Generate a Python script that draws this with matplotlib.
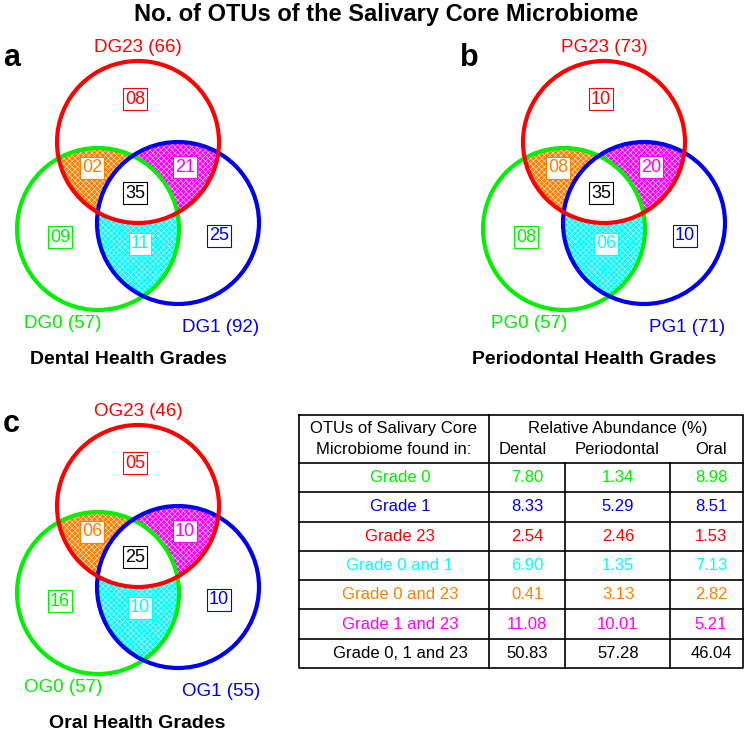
import numpy as np
import matplotlib
matplotlib.use("Agg")
import matplotlib.pyplot as plt
from matplotlib.patches import Circle, Polygon

plt.rcParams['font.family'] = ['Liberation Sans', 'DejaVu Sans']
plt.rcParams['hatch.linewidth'] = 0.35

# venn data: sets are grade 23 (top), grade 0 (left), grade 1 (right)
panel_letters = ['a', 'b', 'c']
set_prefix = ['DG', 'PG', 'OG']
panel_titles = ['Dental Health Grades', 'Periodontal Health Grades', 'Oral Health Grades']
totals_23 = [66, 73, 46]
totals_0 = [57, 57, 57]
totals_1 = [92, 71, 55]
# region counts: only 23, 0&23, 1&23, all three, only 0, 0&1, only 1
counts_a = [8, 2, 21, 35, 9, 11, 25]
counts_b = [10, 8, 20, 35, 8, 6, 10]
counts_c = [5, 6, 10, 25, 16, 10, 10]

# table data
row_labels = ['Grade 0', 'Grade 1', 'Grade 23', 'Grade 0 and 1',
              'Grade 0 and 23', 'Grade 1 and 23', 'Grade 0, 1 and 23']
dental = [7.80, 8.33, 2.54, 6.90, 0.41, 11.08, 50.83]
periodontal = [1.34, 5.29, 2.46, 1.35, 3.13, 10.01, 57.28]
oral = [8.98, 8.51, 1.53, 7.13, 2.82, 5.21, 46.04]

RED = '#ff0000'
GREEN = '#00f000'
BLUE = '#0000f0'
CYAN = '#00ffff'
ORANGE = '#ff7f00'
MAGENTA = '#ff00ff'
row_colors = [GREEN, BLUE, RED, CYAN, ORANGE, MAGENTA, 'black']
region_colors = [RED, ORANGE, MAGENTA, 'black', GREEN, CYAN, BLUE]

R = 81
C_RED = (138, 142)
C_GREEN = (98, 229)
C_BLUE = (178, 223)
region_pos = [(135, 99), (92, 168), (185, 167), (135, 193), (60, 237), (140, 244), (219, 236)]
offsets = [(0, 0), (466, 0), (0, 364)]
letter_pos = [(3, 58), (460, 58), (3, 424)]


def circle_pts(c, n=720):
    t = np.linspace(0, 2 * np.pi, n, endpoint=False)
    return np.column_stack([c[0] + R * np.cos(t), c[1] + R * np.sin(t)])


def intersection(centers):
    # convex intersection of circles, as a polygon
    pts = []
    for c in centers:
        p = circle_pts(c)
        ok = np.ones(len(p), bool)
        for o in centers:
            if o is c:
                continue
            ok &= np.hypot(p[:, 0] - o[0], p[:, 1] - o[1]) <= R + 1e-9
        pts.append(p[ok])
    pts = np.vstack(pts)
    m = pts.mean(axis=0)
    ang = np.arctan2(pts[:, 1] - m[1], pts[:, 0] - m[0])
    return pts[np.argsort(ang)]


fig = plt.figure(figsize=(7.49, 7.33), dpi=100)
ax = fig.add_axes([0, 0, 1, 1])
ax.set_xlim(0, 749)
ax.set_ylim(733, 0)
ax.set_aspect('equal')
ax.axis('off')

ax.text(386, 14, 'No. of OTUs of the Salivary Core Microbiome', ha='center', va='center',
        fontsize=17, fontweight='bold')

all_counts = [counts_a, counts_b, counts_c]
for i in range(3):
    dx, dy = offsets[i]
    cr = (C_RED[0] + dx, C_RED[1] + dy)
    cg = (C_GREEN[0] + dx, C_GREEN[1] + dy)
    cb = (C_BLUE[0] + dx, C_BLUE[1] + dy)

    for pair, col in [((cg, cr), ORANGE), ((cb, cr), MAGENTA), ((cg, cb), CYAN)]:
        ax.add_patch(Polygon(intersection(list(pair)), closed=True, facecolor=col,
                             edgecolor='white', lw=0, hatch='xxxxxx', zorder=1))
    ax.add_patch(Polygon(intersection([cg, cr, cb]), closed=True, facecolor='white',
                         edgecolor='none', zorder=2))
    for c, col in [(cg, GREEN), (cb, BLUE), (cr, RED)]:
        ax.add_patch(Circle(c, R, fill=False, edgecolor=col, lw=3.0, zorder=3))

    for (px, py), n, col in zip(region_pos, all_counts[i], region_colors):
        ax.text(px + dx, py + dy, f'{n:02d}', ha='center', va='center', fontsize=13, color=col,
                zorder=5, bbox=dict(boxstyle='square,pad=0.12', fc='white', ec=col, lw=0.8))

    p = set_prefix[i]
    ax.text(138 + dx, 48 + dy, f'{p}23 ({totals_23[i]})', ha='center', va='center',
            fontsize=13.5, color=RED)
    ax.text(63 + dx, 324 + dy, f'{p}0 ({totals_0[i]})', ha='center', va='center',
            fontsize=13.5, color=GREEN)
    ax.text(221 + dx, 327 + dy, f'{p}1 ({totals_1[i]})', ha='center', va='center',
            fontsize=13.5, color=BLUE)
    ax.text(128 + dx if i < 2 else 137, 359 + dy, panel_titles[i], ha='center', va='center',
            fontsize=14, fontweight='bold')
    lx, ly = letter_pos[i]
    ax.text(lx, ly, panel_letters[i], ha='left', va='center', fontsize=22, fontweight='bold')

# table
xs = [299, 489, 565, 670, 743]
y_top, y_head = 415, 463
row_h = (668 - y_head) / len(row_labels)
ys = [y_head + k * row_h for k in range(len(row_labels) + 1)]
tl = 1.2
ax.plot([xs[0], xs[-1], xs[-1], xs[0], xs[0]], [y_top, y_top, ys[-1], ys[-1], y_top],
        color='black', lw=tl)
ax.plot([xs[1], xs[1]], [y_top, ys[-1]], color='black', lw=tl)
for x in xs[2:4]:
    ax.plot([x, x], [y_head, ys[-1]], color='black', lw=tl)
for y in ys[:-1]:
    ax.plot([xs[0], xs[-1]], [y, y], color='black', lw=tl)

fs = 12
ax.text(394, 428, 'OTUs of Salivary Core', ha='center', va='center', fontsize=fs)
ax.text(394, 450, 'Microbiome found in:', ha='center', va='center', fontsize=fs)
ax.text(618, 428, 'Relative Abundance (%)', ha='center', va='center', fontsize=fs)
for x, lab in zip([523, 617, 711], ['Dental', 'Periodontal', 'Oral']):
    ax.text(x, 450, lab, ha='center', va='center', fontsize=fs)

for k, lab in enumerate(row_labels):
    yc = (ys[k] + ys[k + 1]) / 2
    col = row_colors[k]
    ax.text(400, yc, lab, ha='center', va='center', fontsize=fs, color=col)
    for x, v in zip([527, 618, 711], [dental[k], periodontal[k], oral[k]]):
        ax.text(x, yc, f'{v:.2f}', ha='center', va='center', fontsize=fs, color=col)

fig.savefig('out.png', dpi=100)
